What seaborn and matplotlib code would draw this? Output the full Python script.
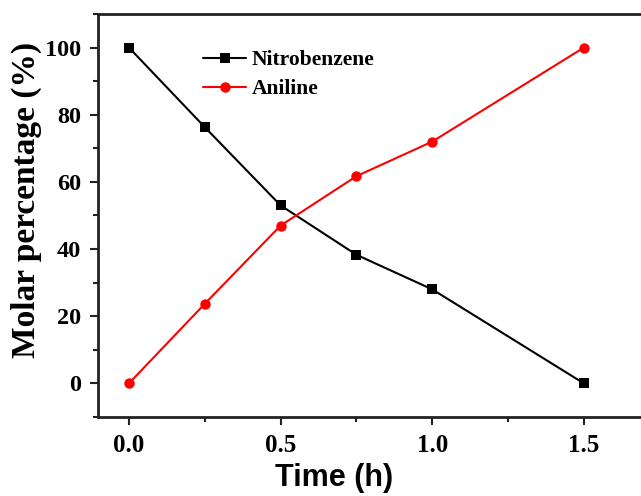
import matplotlib
matplotlib.use("Agg")
import matplotlib.pyplot as plt
import seaborn as sns
import pandas as pd
from matplotlib.ticker import MultipleLocator

time_h = [0.0, 0.25, 0.5, 0.75, 1.0, 1.5]
nitrobenzene = [100, 76.3, 53.0, 38.3, 28.0, 0]
aniline = [0, 23.7, 47.0, 61.7, 72.0, 100]

df = pd.DataFrame({
    "Time": time_h * 2,
    "Value": nitrobenzene + aniline,
    "Series": ["Nitrobenzene"] * len(time_h) + ["Aniline"] * len(time_h),
})

sns.set_style("white")
plt.rcParams["font.family"] = ["Liberation Serif", "DejaVu Serif"]
plt.rcParams["text.color"] = "black"

fig = plt.figure(figsize=(6.41, 4.96), dpi=100)
ax = fig.add_axes([0.1529, 0.1593, 0.90, 0.8125])

sns.lineplot(data=df, x="Time", y="Value", hue="Series", style="Series",
             palette={"Nitrobenzene": "black", "Aniline": "red"},
             markers={"Nitrobenzene": "s", "Aniline": "o"},
             dashes=False, markersize=7.5, markeredgewidth=0, linewidth=1.5,
             ax=ax)

ax.set_xlim(-0.102, 1.8)
ax.set_ylim(-10, 110)
ax.xaxis.set_major_locator(MultipleLocator(0.5))
ax.xaxis.set_minor_locator(MultipleLocator(0.25))
ax.yaxis.set_major_locator(MultipleLocator(20))
ax.yaxis.set_minor_locator(MultipleLocator(10))
ax.set_xticklabels([f"{v:.1f}" for v in ax.get_xticks()])

for s in ax.spines.values():
    s.set_linewidth(2)
    s.set_color("#222222")

ax.tick_params(axis="both", which="major", direction="out", length=6, width=1.5,
               bottom=True, left=True, top=False, right=False, pad=6,
               colors="#222222", labelcolor="black")
ax.tick_params(axis="both", which="minor", direction="out", length=3.5, width=1.5,
               bottom=True, left=True, top=False, right=False, colors="#222222")
for lab in ax.get_xticklabels():
    lab.set_fontsize(18)
    lab.set_fontweight("bold")
for lab in ax.get_yticklabels():
    lab.set_fontsize(17.5)
    lab.set_fontweight("bold")

ax.set_xlabel("Time (h)", fontsize=22, fontweight="bold", color="black",
              family=["Liberation Sans", "DejaVu Sans"])
ax.xaxis.set_label_coords(0.41, -0.115)
ax.set_ylabel("Molar percentage (%)", fontsize=24, fontweight="bold", color="black")
ax.yaxis.set_label_coords(-0.097, 0.538)

leg = ax.legend(loc="upper left", bbox_to_anchor=(0.182, 0.91), frameon=False,
                prop={"weight": "bold", "size": 15.5}, handlelength=2.0,
                handletextpad=0.27, labelspacing=0.42, borderpad=0,
                borderaxespad=0)
for t in leg.get_texts():
    t.set_color("black")

fig.savefig("out.png", dpi=100)
